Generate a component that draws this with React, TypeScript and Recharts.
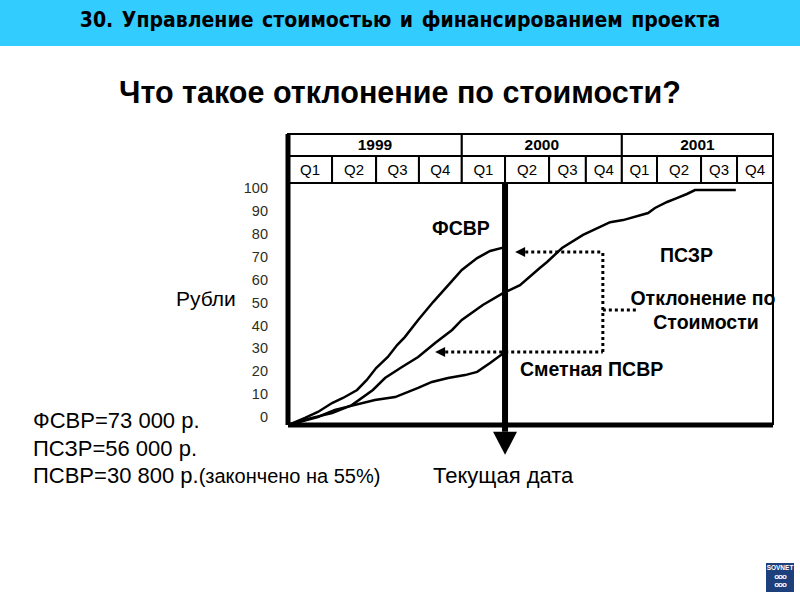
import React from 'react'
import {
  CartesianGrid, Line, LineChart, ReferenceArea, ReferenceDot, ReferenceLine, XAxis, YAxis,
} from 'recharts'

// ------------------------------------------------------------
// Earned value slide: cost variance at the status date.
// X is a timeline in quarter units. The source draws its quarters with
// uneven widths, so the edges are kept as read rather than 0..12 evenly.
// ------------------------------------------------------------

const QUARTER_EDGES = [0, 1.09, 2.18, 3.24, 4.3, 5.37, 6.46, 7.37, 8.26, 9.13, 10.22, 11.11, 12]
const QUARTER_LABELS = ['Q1', 'Q2', 'Q3', 'Q4', 'Q1', 'Q2', 'Q3', 'Q4', 'Q1', 'Q2', 'Q3', 'Q4']
const YEAR_EDGES = [0, 4.3, 8.26, 12]
const YEARS = ['1999', '2000', '2001']
const RUB_TICKS = [0, 10, 20, 30, 40, 50, 60, 70, 80, 90, 100]

// ФСВР — actual cost of work performed, [quarter, rubles]
const ACWP: [number, number][] = [
  [0, -3.5], [0.42, -0.4], [0.74, 2.2], [1.09, 6.1], [1.36, 8.3], [1.71, 11.8],
  [1.95, 16.2], [2.18, 21.4], [2.47, 26.2], [2.7, 31.4], [2.89, 34.9], [3.22, 42.4],
  [3.59, 50.2], [4.01, 58.5], [4.3, 64.2], [4.68, 69.4], [5.0, 72.5], [5.37, 74.2],
]

// ПСЗР — planned (budgeted) cost of work scheduled
const BCWS: [number, number][] = [
  [0, -3.5], [0.59, -0.4], [1.09, 1.7], [1.58, 5.2], [2.1, 11.8], [2.4, 17.0],
  [2.82, 21.8], [3.22, 26.2], [3.64, 32.3], [4.06, 38.0], [4.3, 42.4], [4.82, 48.9],
  [5.32, 54.1], [5.74, 57.6], [6.23, 65.1], [6.41, 67.7], [6.78, 73.8], [7.3, 79.5],
  [7.97, 85.1], [8.29, 86.0], [8.91, 89.1], [9.08, 91.3], [9.38, 93.9], [9.62, 95.6],
  [9.87, 97.4], [10.07, 99.1], [10.19, 99.1], [11.08, 99.1],
]

// Сметная ПСВР — budgeted cost of work performed (earned value)
const BCWP: [number, number][] = [
  [0, -3.5], [0.74, 0], [1.16, 3.1], [2.15, 7.4], [2.65, 8.7], [3.22, 12.7],
  [3.56, 15.3], [3.96, 17.0], [4.38, 18.3], [4.68, 19.7], [5.0, 23.6], [5.37, 28.4],
]

const STATUS_DATE = 5.37
const ACWP_LEVEL = 72.1
const BCWP_LEVEL = 28.4
const STUB_LEVEL = 46.7

// layout of the table header that sits inside the plot frame (value units)
const Y_MIN = -3.5
const Y_MAX = 123.6
const QROW: [number, number] = [102.2, 114.0]
const BRACKET_X = 7.79
const STUB_END = 8.63

const FONT = "'Liberation Sans', Arial, sans-serif"

const toRows = (pts: [number, number][]) => pts.map(([q, v]) => ({ q, v }))

const DownArrow = (p: any) => (
  <polygon points={`${p.cx - 12},${p.cy} ${p.cx + 12},${p.cy} ${p.cx},${p.cy + 23}`} fill="#000" />
)
const LeftArrow = (p: any) => (
  <polygon points={`${p.cx},${p.cy} ${p.cx + 10},${p.cy - 5} ${p.cx + 10},${p.cy + 5}`} fill="#000" />
)

const dotted = { stroke: '#000', strokeWidth: 3, strokeDasharray: '3 3' }

function Txt({ x, y, size = 20, bold = false, center = false, children }: any) {
  const lh = Math.round(size * 1.2)
  return (
    <div
      style={{
        position: 'absolute', left: center ? x - 400 : x, top: y - lh / 2, width: center ? 800 : undefined,
        textAlign: center ? 'center' : 'left', whiteSpace: 'nowrap', fontFamily: FONT,
        fontSize: size, lineHeight: `${lh}px`, fontWeight: bold ? 'bold' : 'normal', color: '#000',
      }}
    >
      {children}
    </div>
  )
}

export default function App() {
  return (
    <div style={{ position: 'absolute', left: 0, top: 0, width: 800, height: 600, background: '#fff', overflow: 'hidden' }}>
      <div
        style={{
          position: 'absolute', left: 0, top: 0, width: 800, height: 46, background: '#33ccff',
          textAlign: 'center', lineHeight: '41px', fontSize: 21, fontWeight: 'bold', wordSpacing: 2,
          fontFamily: "'Liberation Sans Narrow', 'DejaVu Sans Condensed', Arial, sans-serif",
        }}
      >
        30. Управление стоимостью и финансированием проекта
      </div>

      <div style={{ position: 'absolute', left: 0, top: 0 }}>
        <LineChart width={800} height={600} margin={{ top: 134, right: 27, left: 228, bottom: 165 }}>
          <XAxis
            type="number" dataKey="q" domain={[0, 12]} ticks={QUARTER_EDGES} allowDataOverflow
            tick={false} tickLine={false} height={10} axisLine={{ stroke: '#000', strokeWidth: 5 }}
          />
          <YAxis
            type="number" domain={[Y_MIN, Y_MAX]} ticks={RUB_TICKS} allowDataOverflow width={60}
            tickLine={false} tickSize={0} tickMargin={20} axisLine={{ stroke: '#000', strokeWidth: 5 }}
            tick={{ fill: '#2e2e1a', fontSize: 14.5, fontFamily: FONT }}
          />
          <CartesianGrid horizontal={false} stroke="#000" strokeWidth={2} />

          {YEARS.map((yr, i) => (
            <ReferenceArea
              key={yr} x1={YEAR_EDGES[i]} x2={YEAR_EDGES[i + 1]} y1={QROW[1]} y2={Y_MAX}
              fill="#fff" fillOpacity={1} stroke="#000" strokeWidth={2}
              label={{ value: yr, position: 'center', fill: '#000', fontSize: 15.5, fontWeight: 'bold', fontFamily: FONT }}
            />
          ))}
          {QUARTER_LABELS.map((ql, i) => (
            <ReferenceArea
              key={i} x1={QUARTER_EDGES[i]} x2={QUARTER_EDGES[i + 1]} y1={QROW[0]} y2={QROW[1]}
              fill="#fff" fillOpacity={1} stroke="#000" strokeWidth={2}
              label={{ value: ql, position: 'center', fill: '#000', fontSize: 15, fontFamily: FONT }}
            />
          ))}

          <Line data={toRows(ACWP)} dataKey="v" type="linear" stroke="#000" strokeWidth={2.5} dot={false} isAnimationActive={false} />
          <Line data={toRows(BCWS)} dataKey="v" type="linear" stroke="#000" strokeWidth={2.5} dot={false} isAnimationActive={false} />
          <Line data={toRows(BCWP)} dataKey="v" type="linear" stroke="#000" strokeWidth={2.5} dot={false} isAnimationActive={false} />

          {/* status date marker */}
          <ReferenceLine
            segment={[{ x: STATUS_DATE, y: -6.5 }, { x: STATUS_DATE, y: QROW[0] }]}
            stroke="#000" strokeWidth={6} ifOverflow="visible"
          />
          <ReferenceDot x={STATUS_DATE} y={-6.5} r={1} ifOverflow="visible" shape={DownArrow} />

          {/* cost variance bracket */}
          <ReferenceLine segment={[{ x: 5.87, y: ACWP_LEVEL }, { x: BRACKET_X, y: ACWP_LEVEL }]} {...dotted} />
          <ReferenceLine segment={[{ x: 3.89, y: BCWP_LEVEL }, { x: BRACKET_X, y: BCWP_LEVEL }]} {...dotted} />
          <ReferenceLine segment={[{ x: BRACKET_X, y: BCWP_LEVEL }, { x: BRACKET_X, y: ACWP_LEVEL }]} {...dotted} />
          <ReferenceLine segment={[{ x: BRACKET_X, y: STUB_LEVEL }, { x: STUB_END, y: STUB_LEVEL }]} {...dotted} />
          <ReferenceDot x={5.62} y={ACWP_LEVEL} r={1} shape={LeftArrow} />
          <ReferenceDot x={3.64} y={BCWP_LEVEL} r={1} shape={LeftArrow} />
        </LineChart>
      </div>

      <Txt x={400} y={92} size={30.5} bold center>Что такое отклонение по стоимости?</Txt>
      <Txt x={176} y={298} size={21}>Рубли</Txt>
      <Txt x={432} y={228} size={19.5} bold>ФСВР</Txt>
      <Txt x={660} y={255} size={19.5} bold>ПСЗР</Txt>
      <Txt x={703} y={298} size={19.5} bold center>Отклонение по</Txt>
      <Txt x={706} y={322} size={19.5} bold center>Стоимости</Txt>
      <Txt x={520} y={369} size={19.5} bold>Сметная ПСВР</Txt>
      <Txt x={33} y={421} size={22}>ФСВР=73 000 р.</Txt>
      <Txt x={33} y={449} size={22}>ПСЗР=56 000 р.</Txt>
      <Txt x={33} y={476} size={22}>ПСВР=30 800 р.<span style={{ fontSize: 20 }}>(закончено на 55%)</span></Txt>
      <Txt x={433} y={476} size={22}>Текущая дата</Txt>

      <div
        style={{
          position: 'absolute', left: 766, top: 563, width: 28, height: 29, background: '#1d3f7c',
          color: '#fff', fontFamily: FONT, fontSize: 6.5, fontWeight: 'bold', textAlign: 'center', lineHeight: '10px',
        }}
      >
        SOVNET
        <div style={{ fontSize: 8, lineHeight: '8px', letterSpacing: -1 }}>ooo</div>
        <div style={{ fontSize: 8, lineHeight: '8px', letterSpacing: -1 }}>ooo</div>
      </div>
    </div>
  )
}
